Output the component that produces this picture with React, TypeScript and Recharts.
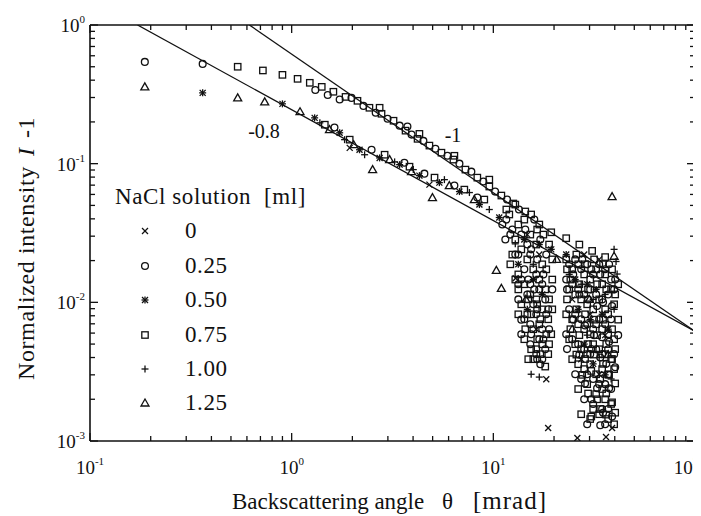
import React from "react";
import { ScatterChart, Scatter, XAxis, YAxis, Customized } from "recharts";

// ---- axis ticks ----
const xTicks = [0.1,0.2,0.3,0.4,0.5,0.6,0.7,0.8,0.9,1,2,3,4,5,6,7,8,9,10,20,30,40,50,60,70,80,90,100];
const yTicks = [0.001,0.002,0.003,0.004,0.005,0.006,0.007,0.008,0.009,0.01,0.02,0.03,0.04,0.05,0.06,0.07,0.08,0.09,0.1,0.2,0.3,0.4,0.5,0.6,0.7,0.8,0.9,1];

// ---- series (x: angle mrad, y: normalized intensity) ----
const s000 = [
  [1.94,0.130],[4.82,0.0706],[12.9,0.0149],[18.3,0.00279],[18.7,0.00124],[26.1,0.00105],[36.2,0.00107],[38.8,0.00124],
  [14.74,0.0308],[16.9,0.0221],[28.22,0.0221],[33.48,0.0204],[24.61,0.0105],[30.22,0.0082],[35.85,0.0058],[27.27,0.00389],
  [16.33,0.0064],[33.48,0.00303],
];
const s025 = [
  [0.187,0.542],[0.362,0.524],
  [1.31,0.34],[1.51,0.313],[1.73,0.29],[1.98,0.298],[2.27,0.261],[2.61,0.233],[2.99,0.211],[3.43,0.188],[3.75,0.185],
  [3.93,0.162],[4.50,0.146],[5.16,0.128],[5.92,0.114],[6.79,0.100],[7.78,0.0876],[8.92,0.0743],[10.2,0.0629],[11.7,0.0551],
  [13.4,0.0467],
  [1.63,0.182],[2.49,0.126],[3.62,0.1016],[4.55,0.0847],[6.41,0.0695],[8.33,0.0569],
  [11.08,0.0364],[12.42,0.0335],[13.76,0.0308],[11.47,0.0284],[14.74,0.0261],[13.3,0.0221],[15.25,0.0221],[14.24,0.0173],
  [16.33,0.0159],[13.76,0.0146],[15.25,0.0135],[17.48,0.0135],[14.74,0.0114],[16.9,0.0124],[13.3,0.0105],[18.09,0.0105],
  [15.78,0.00968],[16.33,0.0082],[14.24,0.00755],[18.72,0.0089],[15.25,0.00695],[17.48,0.0064],[13.76,0.00589],[16.9,0.00542],
  [15.25,0.00499],[18.09,0.00459],[17.48,0.00389],[16.33,0.00423],
  [11.6,0.0395],[12.14,0.0308],[14.4,0.0335],[15.96,0.0395],[17.1,0.0284],[18.3,0.0221],[15.4,0.0241],[12.85,0.0221],
  [16.5,0.0204],[17.7,0.0159],[14.9,0.0146],[19.6,0.0124],[15.96,0.0124],[13.3,0.0135],[16.5,0.0089],[18.3,0.0082],
  [13.76,0.0075],[15.4,0.00589],[17.7,0.00542],[18.9,0.0064],[16.5,0.00389],[17.1,0.00358],
  [23.78,0.0188],[25.47,0.0204],[27.27,0.0173],[29.2,0.0188],[31.26,0.0159],[33.48,0.0188],[35.85,0.0173],[38.38,0.0146],
  [22.98,0.0146],[24.61,0.0135],[26.35,0.0124],[28.22,0.0114],[30.22,0.0124],[32.35,0.0114],[34.64,0.0105],[37.1,0.0114],
  [39.72,0.0124],[23.78,0.0089],[25.47,0.0082],[27.27,0.00755],[29.2,0.00695],[31.26,0.0064],[33.48,0.00755],[35.85,0.00695],
  [38.38,0.00755],[22.98,0.00589],[24.61,0.00542],[26.35,0.00499],[28.22,0.00459],[30.22,0.00423],[32.35,0.00459],[34.64,0.00423],
  [37.1,0.00459],[39.72,0.00423],[25.47,0.00303],[27.27,0.0028],[29.2,0.00303],[31.26,0.0028],[33.48,0.00257],[35.85,0.00257],
  [38.38,0.00237],[28.22,0.002],[31.26,0.00185],[34.64,0.0017],[37.1,0.0017],[29.2,0.00132],[35.85,0.00132],
  [24.9,0.0159],[27.6,0.0204],[30.6,0.0173],[33.9,0.0159],[37.5,0.0188],[40.2,0.0146],[23.2,0.0124],[26.7,0.0114],
  [29.5,0.0105],[32.7,0.0094],[35.0,0.0100],[38.8,0.0094],[24.9,0.0075],[28.5,0.0068],[31.6,0.0058],[34.6,0.0056],
  [37.5,0.0052],[41.6,0.0058],[23.2,0.0046],[26.7,0.0042],[30.6,0.0046],[33.9,0.0040],[36.3,0.0036],[40.2,0.0034],
  [28.5,0.0026],[32.7,0.0024],[37.5,0.0024],[30.6,0.0020],[35.0,0.0016],[38.8,0.0015],[33.9,0.0013],
];
const s050 = [
  [0.362,0.324],[0.90,0.270],[1.30,0.214],[1.73,0.167],[2.17,0.126],[2.73,0.110],[3.43,0.0984],[4.30,0.0820],[5.40,0.0730],
  [6.79,0.0629],[8.53,0.0507],[10.7,0.0409],
  [14.24,0.0284],[16.9,0.0261],[19.37,0.0241],[22.98,0.0221],[13.3,0.0188],[15.78,0.0146],[17.48,0.0114],[14.74,0.0089],
  [25.47,0.0146],[29.2,0.0135],[32.35,0.0124],[26.35,0.0089],[30.22,0.0075],[34.64,0.0082],[37.1,0.0064],[28.22,0.0050],
  [31.26,0.0036],[35.85,0.0030],
];
const s075 = [
  [0.54,0.50],[0.72,0.47],[0.90,0.437],[1.07,0.409],[1.23,0.383],[1.41,0.358],[1.61,0.330],[1.85,0.303],[2.12,0.284],
  [2.43,0.253],[2.79,0.229],[3.20,0.204],[3.67,0.173],[4.21,0.151],[4.82,0.135],[5.53,0.120],[6.34,0.107],[7.27,0.0906],
  [8.33,0.0793],[9.55,0.0684],[10.96,0.0589],[12.56,0.0516],[14.4,0.0452],
  [2.73,0.253],[4.30,0.164],[6.41,0.114],[9.55,0.0767],
  [1.46,0.191],[1.94,0.149],[2.89,0.116],[3.84,0.0951],[5.11,0.0793],[7.18,0.065],[9.02,0.0551],
  [16.9,0.0364],[19.37,0.032],[22.98,0.029],[26.7,0.0261],[30.9,0.0235],[35.85,0.0212],[18.09,0.00344],
  [12.0,0.0430],[13.3,0.0364],[14.24,0.0395],[12.85,0.0284],[15.25,0.0308],[13.76,0.0241],[16.33,0.0261],[14.74,0.0204],
  [12.42,0.0221],[17.48,0.0188],[15.78,0.0173],[13.3,0.0159],[16.9,0.0146],[14.24,0.0135],[18.09,0.0124],[15.25,0.0114],
  [16.33,0.0105],[13.76,0.00968],[17.48,0.0089],[14.74,0.0082],[18.72,0.00755],[16.9,0.00695],[15.78,0.0064],[19.37,0.00589],
  [14.24,0.00542],[17.48,0.00499],[16.33,0.00459],[18.72,0.00423],[15.78,0.00389],
  [11.6,0.0467],[12.85,0.0507],[15.4,0.0430],[16.5,0.0335],[17.7,0.0308],[18.9,0.0261],[19.6,0.0204],[18.3,0.0173],
  [19.6,0.0146],[12.14,0.0188],[12.85,0.0146],[13.3,0.0124],[14.9,0.0105],[16.5,0.00968],[18.9,0.0105],[19.6,0.0089],
  [13.3,0.0082],[15.4,0.0082],[17.1,0.00755],[14.4,0.0064],[18.3,0.00589],[16.5,0.00542],[15.4,0.00459],[17.1,0.00423],
  [18.9,0.00499],[14.9,0.00389],
  [22.98,0.0204],[24.61,0.0173],[26.35,0.0188],[28.22,0.0159],[30.22,0.0146],[32.35,0.0173],[34.64,0.0135],[35.85,0.0159],
  [38.38,0.0124],[23.78,0.0124],[25.47,0.0114],[27.27,0.0105],[29.2,0.00968],[31.26,0.0089],[33.48,0.0105],[35.85,0.0089],
  [37.1,0.0082],[39.72,0.00968],[22.98,0.0082],[24.61,0.00755],[26.35,0.00695],[28.22,0.0064],[30.22,0.00589],[32.35,0.00695],
  [34.64,0.0064],[37.1,0.00589],[39.72,0.00542],[23.78,0.00542],[25.47,0.00499],[27.27,0.00459],[29.2,0.00423],[31.26,0.00499],
  [33.48,0.00459],[35.85,0.00423],[38.38,0.00389],[24.61,0.00389],[26.35,0.00358],[28.22,0.0033],[30.22,0.00358],[32.35,0.00303],
  [34.64,0.0033],[37.1,0.00303],[39.72,0.0033],[26.35,0.00237],[29.2,0.00257],[32.35,0.00218],[34.64,0.00237],[35.85,0.0020],
  [38.38,0.00185],[27.27,0.00156],[30.22,0.00144],[33.48,0.00156],[37.1,0.00144],[39.72,0.00132],[31.26,0.0017],
  [23.2,0.0173],[25.8,0.0221],[28.5,0.0188],[31.6,0.0204],[35.0,0.0188],[38.8,0.0173],[41.6,0.0135],[24.1,0.0146],
  [26.7,0.0135],[29.5,0.0124],[32.7,0.0135],[36.3,0.0124],[40.2,0.0114],[23.2,0.0105],[25.8,0.0089],[28.5,0.0082],
  [31.6,0.0075],[35.0,0.0075],[38.8,0.0064],[41.6,0.0075],[24.1,0.0064],[26.7,0.0058],[29.5,0.0050],[32.7,0.0058],
  [36.3,0.0050],[40.2,0.0046],[25.8,0.0042],[28.5,0.0039],[31.6,0.0042],[35.0,0.0036],[38.8,0.0039],[27.6,0.0030],
  [30.6,0.0032],[33.9,0.0028],[37.5,0.0030],[40.2,0.0026],[29.5,0.0022],[32.7,0.0020],[36.3,0.0022],[38.8,0.0019],
  [33.9,0.0017],[30.6,0.0015],[36.3,0.00155],[40.2,0.0016],
];
const s100 = [
  [1.38,0.197],[1.83,0.149],[2.30,0.116],[3.24,0.103],[4.01,0.0906],[5.72,0.0767],[7.61,0.0619],[9.55,0.0467],
  [15.4,0.00303],[16.9,0.00289],[39.7,0.0241],[40.6,0.0197],[41.1,0.0160],
  [12.85,0.0264],[15.78,0.0188],[23.78,0.0159],[27.27,0.0135],[31.26,0.0105],[35.85,0.0114],[39.72,0.0089],[29.2,0.0058],
  [33.48,0.0040],[38.38,0.0028],
];
const s125 = [
  [0.187,0.358],[0.54,0.298],[0.735,0.279],[1.10,0.237],[1.54,0.176],[2.03,0.137],[2.52,0.0906],[3.06,0.107],[3.93,0.0876],
  [4.99,0.0569],[6.05,0.0695],[8.05,0.0551],[10.35,0.0170],[10.96,0.0126],[38.8,0.0579],
  [14.5,0.0105],[20.6,0.0204],[29.9,0.0105],[24.61,0.0064],[37.1,0.0042],[39.7,0.0215],
];

// ---- fitted power-law lines (end points) ----
const fitSlope1 = [[0.617,1],[100,0.00617]];
const fitSlope08 = [[0.172,1],[100,0.00617]];

// ---- legend ----
const legendTitle = "NaCl solution  [ml]";
const seriesNames = ["0","0.25","0.50","0.75","1.00","1.25"];
const seriesKinds = ["cross","circle","star","square","plus","triangle"];

const toPts = (arr) => arr.map(([x, y]) => ({ x, y }));
const seriesData = [s000, s025, s050, s075, s100, s125].map(toPts);

const FONT = "'Liberation Serif', 'Times New Roman', serif";
const INK = "#111";

function Marker({ kind, cx, cy }) {
  const s = { stroke: INK, strokeWidth: 1.3, fill: "none" };
  switch (kind) {
    case "cross":
      return (<g {...s}><line x1={cx-3} y1={cy-3} x2={cx+3} y2={cy+3}/><line x1={cx-3} y1={cy+3} x2={cx+3} y2={cy-3}/></g>);
    case "circle":
      return <circle cx={cx} cy={cy} r={3.4} {...s} />;
    case "star":
      return (<g {...s}><line x1={cx-3} y1={cy-3} x2={cx+3} y2={cy+3}/><line x1={cx-3} y1={cy+3} x2={cx+3} y2={cy-3}/><line x1={cx-3.5} y1={cy} x2={cx+3.5} y2={cy}/><line x1={cx} y1={cy-3.5} x2={cx} y2={cy+3.5}/></g>);
    case "square":
      return <rect x={cx-3.2} y={cy-3.2} width={6.4} height={6.4} {...s} />;
    case "plus":
      return (<g {...s}><line x1={cx-3.5} y1={cy} x2={cx+3.5} y2={cy}/><line x1={cx} y1={cy-3.5} x2={cx} y2={cy+3.5}/></g>);
    case "triangle":
    default:
      return <polygon points={`${cx},${cy-4} ${cx-4},${cy+3} ${cx+4},${cy+3}`} {...s} />;
  }
}

const isDecade = (v) => Math.abs(Math.log10(v) - Math.round(Math.log10(v))) < 1e-6;
const expOf = (v) => Math.round(Math.log10(v));

// plot-area edges inside the 693x508 chart
const PL = 82, PR = 687, PT = 17, PB = 433;

const TickBottom = (props) => {
  const { x, payload } = props;
  const v = payload.value;
  const major = isDecade(v);
  const lx = v >= 100 ? x - 9 : x;
  return (
    <g>
      <line x1={x} x2={x} y1={PB} y2={PB - (major ? 8 : 5)} stroke={INK} strokeWidth={1.3} />
      {major && (
        <text x={lx} y={PB + 33} textAnchor="middle" fontFamily={FONT} fontSize={19} fill={INK}>
          10<tspan fontSize={11} dy={-9}>{expOf(v)}</tspan>
        </text>
      )}
    </g>
  );
};
const TickTop = (props) => {
  const { x, payload } = props;
  const major = isDecade(payload.value);
  return <line x1={x} x2={x} y1={PT} y2={PT + (major ? 8 : 5)} stroke={INK} strokeWidth={1.3} />;
};
const TickLeft = (props) => {
  const { y, payload } = props;
  const v = payload.value;
  const major = isDecade(v);
  return (
    <g>
      <line x1={PL} x2={PL + (major ? 8 : 5)} y1={y} y2={y} stroke={INK} strokeWidth={1.3} />
      {major && (
        <text x={PL - 5} y={y + 7} textAnchor="end" fontFamily={FONT} fontSize={19} fill={INK}>
          10<tspan fontSize={11} dy={-9}>{expOf(v)}</tspan>
        </text>
      )}
    </g>
  );
};
const TickRight = (props) => {
  const { y, payload } = props;
  const major = isDecade(payload.value);
  return <line x1={PR} x2={PR - (major ? 8 : 5)} y1={y} y2={y} stroke={INK} strokeWidth={1.3} />;
};

const LegendBox = () => (
  <div style={{ position: "absolute", left: 107, top: 172, fontFamily: FONT, fontSize: 23, lineHeight: "34.4px", color: INK, whiteSpace: "pre", letterSpacing: 0.6 }}>
    <div>{legendTitle}</div>
    {seriesNames.map((n, i) => (
      <div key={n} style={{ position: "relative", height: 34.4 }}>
        <svg width={16} height={16} style={{ position: "absolute", left: 22, top: 9 }}>
          <Marker kind={seriesKinds[i]} cx={8} cy={8} />
        </svg>
        <span style={{ position: "absolute", left: 70, top: 0 }}>{n}</span>
      </div>
    ))}
  </div>
);

const Annotations = () => (
  <g fontFamily={FONT} fill={INK}>
    <text x={256} y={130} fontSize={20} textAnchor="middle">-0.8</text>
    <text x={445} y={134} fontSize={20} textAnchor="middle">-1</text>
    <text x={224} y={501} fontSize={23}>
      Backscattering angle
      <tspan x={434}>θ</tspan>
      <tspan x={465} fontSize={25} letterSpacing={1}>[mrad]</tspan>
    </text>
    <text transform="translate(26,372) rotate(-90)" fontSize={24} letterSpacing={0.6}>
      Normalized intensity
      <tspan x={224} fontStyle="italic">I</tspan>
      <tspan x={242}>-1</tspan>
    </text>
  </g>
);

export default function App() {
  return (
    <div style={{ position: "relative", width: 693, height: 508 }}>
      <ScatterChart width={693} height={508} margin={{ top: 16, right: 5, bottom: 45, left: 52 }}>
        <XAxis xAxisId={0} type="number" dataKey="x" scale="log" domain={[0.1, 100]} allowDataOverflow
          ticks={xTicks} interval={0} height={30} tickLine={false}
          axisLine={{ stroke: INK, strokeWidth: 1.6 }} tick={<TickBottom />} />
        <XAxis xAxisId="top" orientation="top" type="number" dataKey="x" scale="log" domain={[0.1, 100]} allowDataOverflow
          ticks={xTicks} interval={0} height={1} tickLine={false}
          axisLine={{ stroke: INK, strokeWidth: 1.6 }} tick={<TickTop />} />
        <YAxis yAxisId={0} type="number" dataKey="y" scale="log" domain={[0.001, 1]} allowDataOverflow
          ticks={yTicks} interval={0} width={30} tickLine={false}
          axisLine={{ stroke: INK, strokeWidth: 1.6 }} tick={<TickLeft />} />
        <YAxis yAxisId="right" orientation="right" type="number" dataKey="y" scale="log" domain={[0.001, 1]} allowDataOverflow
          ticks={yTicks} interval={0} width={1} tickLine={false}
          axisLine={{ stroke: INK, strokeWidth: 1.6 }} tick={<TickRight />} />
        <Scatter name="fit-1" data={toPts(fitSlope1)} line={{ stroke: INK, strokeWidth: 1.3 }} shape={() => <g />} isAnimationActive={false} />
        <Scatter name="fit-0.8" data={toPts(fitSlope08)} line={{ stroke: INK, strokeWidth: 1.3 }} shape={() => <g />} isAnimationActive={false} />
        {seriesData.map((d, i) => (
          <Scatter key={seriesNames[i]} name={seriesNames[i]} data={d} isAnimationActive={false}
            shape={(p) => <Marker kind={seriesKinds[i]} cx={p.cx} cy={p.cy} />} />
        ))}
        <Customized component={<Annotations />} />
      </ScatterChart>
      <LegendBox />
    </div>
  );
}
